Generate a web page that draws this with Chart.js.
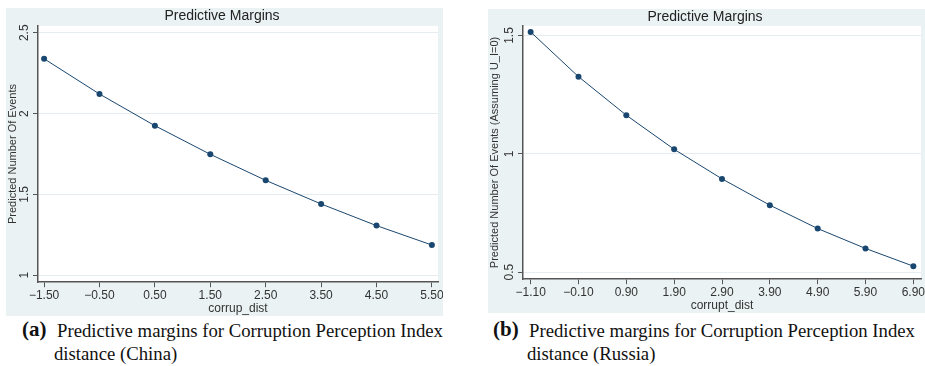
<!DOCTYPE html>
<html>
<head>
<meta charset="utf-8">
<script src="https://cdn.jsdelivr.net/npm/chart.js@4.4.0/dist/chart.umd.min.js"></script>
<style>
    html, body { margin: 0; padding: 0; background: #fff; }
    body { width: 925px; height: 366px; position: relative; overflow: hidden; }
    .panel { position: absolute; }
    #panelA { left: 6px; top: 8px; width: 437px; height: 308px; }
    #panelB { left: 488px; top: 9px; width: 437px; height: 304px; }
    .cap {
        position: absolute;
        font-family: "Liberation Serif", "Times New Roman", serif;
        font-size: 18px;
        line-height: 18px;
        color: #111;
        white-space: nowrap;
        transform: scaleX(1.04);
        transform-origin: left top;
    }
    .tag { font-size: 21px; line-height: 21px; font-weight: bold; transform: none; }
</style>
</head>
<body>

<div class="panel" id="panelA"><canvas id="chartA"></canvas></div>
<div class="panel" id="panelB"><canvas id="chartB"></canvas></div>

<div class="cap tag" style="left:22px; top:319px">(a)</div>
<div class="cap" style="left:57px; top:322px">Predictive margins for Corruption Perception Index</div>
<div class="cap" style="left:54px; top:345px">distance (China)</div>

<div class="cap tag" style="left:493px; top:319px">(b)</div>
<div class="cap" style="left:529px; top:322px">Predictive margins for Corruption Perception Index</div>
<div class="cap" style="left:527px; top:345px">distance (Russia)</div>

<script>
    /* ================= DATA ================= */

    // China
    const xChina = [-1.5, -0.5, 0.5, 1.5, 2.5, 3.5, 4.5, 5.5];
    const yChina = [2.339, 2.121, 1.925, 1.748, 1.587, 1.441, 1.307, 1.187];
    const yTicksChina = [1, 1.5, 2, 2.5];

    // Russia
    const xRussia = [-1.1, -0.1, 0.9, 1.9, 2.9, 3.9, 4.9, 5.9, 6.9];
    const yRussia = [1.515, 1.326, 1.163, 1.019, 0.894, 0.783, 0.684, 0.600, 0.525];
    const yTicksRussia = [0.5, 1, 1.5];

    /* ================= STYLE ================= */

    const BG = "#eaf2f3";
    const NAVY = "#1a476f";
    const AXIS = "#555555";
    const FONT = "'Liberation Sans', Arial, sans-serif";

    const bgPlugin = {
        id: "stataBg",
        beforeDraw(chart) {
            const { ctx, width, height, chartArea: a } = chart;
            ctx.save();
            ctx.fillStyle = BG;
            ctx.fillRect(0, 0, width, height);
            ctx.fillStyle = "#ffffff";
            ctx.fillRect(a.left, a.top, a.right - a.left, a.bottom - a.top);
            ctx.restore();
        }
    };

    // stata style: y tick labels read bottom to top
    function yLabelPlugin(yTicks) {
        return {
            id: "yLabels",
            afterDraw(chart) {
                const { ctx } = chart;
                const s = chart.scales.y;
                ctx.save();
                ctx.fillStyle = "#333";
                ctx.font = `12px ${FONT}`;
                ctx.textAlign = "center";
                ctx.textBaseline = "alphabetic";
                yTicks.forEach(v => {
                    ctx.save();
                    ctx.translate(s.right - 10, s.getPixelForValue(v));
                    ctx.rotate(-Math.PI / 2);
                    ctx.fillText(String(v), 0, 0);
                    ctx.restore();
                });
                ctx.restore();
            }
        };
    }

    const fmtX = v => v.toFixed(2).replace("-", "\u2212");

    function makeChart(id, xs, ys, xTitle, yTitle, yTicks, xRange, yRange, yWidth, padding, titleGap) {
        return new Chart(document.getElementById(id), {
            type: "line",
            data: {
                datasets: [{
                    data: xs.map((x, i) => ({ x, y: ys[i] })),
                    borderColor: NAVY,
                    borderWidth: 1,
                    backgroundColor: NAVY,
                    pointRadius: 3,
                    pointBorderWidth: 0,
                    tension: 0,
                }]
            },
            options: {
                responsive: true,
                maintainAspectRatio: false,
                animation: false,
                layout: { padding },
                plugins: {
                    legend: { display: false },
                    tooltip: { enabled: false },
                    title: {
                        display: true,
                        text: "Predictive Margins",
                        color: "#222",
                        font: { family: FONT, size: 14, weight: "normal" },
                        padding: { top: 0, bottom: titleGap },
                    }
                },
                scales: {
                    x: {
                        type: "linear",
                        min: xRange[0],
                        max: xRange[1],
                        afterBuildTicks: s => { s.ticks = xs.map(v => ({ value: v })); },
                        afterFit: s => { s.paddingLeft = 0; s.paddingRight = 0; },
                        ticks: {
                            callback: v => fmtX(v),
                            color: "#333",
                            font: { family: FONT, size: 12 },
                            padding: 1,
                            maxRotation: 0,
                            autoSkip: false,
                        },
                        grid: {
                            drawOnChartArea: false,
                            tickColor: AXIS,
                            tickLength: 5,
                        },
                        border: { color: AXIS, width: 1.5 },
                        title: {
                            display: true,
                            text: xTitle,
                            color: "#333",
                            font: { family: FONT, size: 12 },
                            padding: { top: -2, bottom: 0 },
                        }
                    },
                    y: {
                        min: yRange[0],
                        max: yRange[1],
                        afterBuildTicks: s => { s.ticks = yTicks.map(v => ({ value: v })); },
                        afterFit: s => { s.width = yWidth; },
                        ticks: { display: false },
                        grid: {
                            color: "#e6edf0",
                            tickColor: AXIS,
                            tickLength: 5,
                        },
                        border: { color: AXIS, width: 1.5 },
                        title: {
                            display: true,
                            text: yTitle,
                            color: "#333",
                            font: { family: FONT, size: 11 },
                            padding: 0,
                        }
                    }
                }
            },
            plugins: [bgPlugin, yLabelPlugin(yTicks)]
        });
    }

    makeChart("chartA", xChina, yChina, "corrup_dist", "Predicted Number Of Events",
        yTicksChina, [-1.61, 5.61], [0.957, 2.543], 32,
        { top: 0, right: 5, bottom: 0, left: 0 }, 1);

    makeChart("chartB", xRussia, yRussia, "corrupt_dist", "Predicted Number Of Events (Assuming U_I=0)",
        yTicksRussia, [-1.26, 7.06], [0.47, 1.541], 35,
        { top: 0, right: 3, bottom: 0, left: 0 }, 0);
</script>
</body>
</html>
